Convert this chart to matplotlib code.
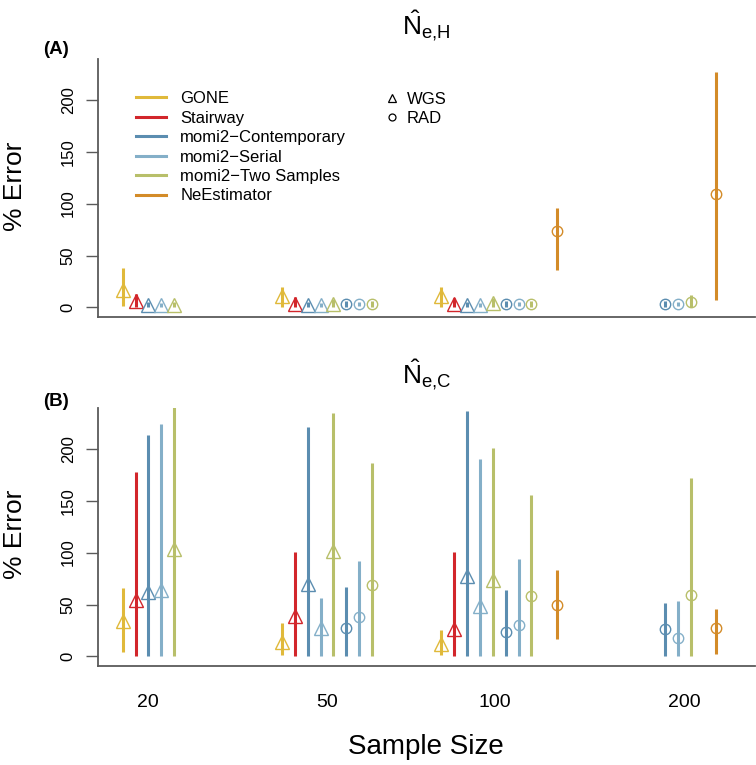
import matplotlib.pyplot as plt
import numpy as np
from matplotlib.lines import Line2D

plt.rcParams['font.family'] = ['Liberation Sans', 'DejaVu Sans']
plt.rcParams['mathtext.fontset'] = 'custom'
plt.rcParams['mathtext.rm'] = 'Liberation Sans'
plt.rcParams['mathtext.it'] = 'Liberation Sans:italic'
plt.rcParams['mathtext.bf'] = 'Liberation Sans:bold'

nan = np.nan
sample_sizes = ['20', '50', '100', '200']
methods = ['GONE', 'Stairway', 'momi2\u2212Contemporary', 'momi2\u2212Serial',
           'momi2\u2212Two Samples', 'NeEstimator']
colors = ['#E0B93A', '#D2262B', '#5B8DB0', '#84AFC8', '#B8BF6A', '#D38B28']

# one row per (method, data type), one column per sample size
series_method = [0, 1, 2, 3, 4, 2, 3, 4, 5]
series_type = ['WGS', 'WGS', 'WGS', 'WGS', 'WGS', 'RAD', 'RAD', 'RAD', 'RAD']

# panel A: N_e,H
nh_mean = [[17, 11, 11, nan], [6, 3, 3, nan], [2.5, 2.5, 2.5, nan],
           [2.5, 2.5, 2.5, nan], [2.5, 3, 4, nan], [nan, 3, 3, 3],
           [nan, 3, 3, 3], [nan, 3, 3, 5], [nan, nan, 74, 109]]
nh_lo = [[1, 0, 0, nan], [0, 0, 0, nan], [0.5, 0.5, 0.5, nan],
         [0.5, 0.5, 0.5, nan], [0.5, 0, 0, nan], [nan, 0.5, 0.5, 0.5],
         [nan, 1, 1, 1], [nan, 0, 0, 0], [nan, nan, 36, 7]]
nh_hi = [[38, 20, 20, nan], [13, 10, 9, nan], [5, 5, 5, nan],
         [4.5, 4.5, 4.5, nan], [5, 8, 9, nan], [nan, 6, 6, 6],
         [nan, 5, 5, 5], [nan, 6, 6, 12], [nan, nan, 96, 227]]

# panel B: N_e,C
nc_mean = [[34, 14, 12, nan], [54, 39, 26, nan], [62, 70, 77, nan],
           [64, 27, 49, nan], [103, 102, 74, nan], [nan, 27, 24, 26],
           [nan, 38, 30, 18], [nan, 69, 58, 59], [nan, nan, 50, 27]]
nc_lo = [[4, 1, 1, nan], [0, 0, 0, nan], [0, 0, 0, nan],
         [0, 0, 0, nan], [0, 0, 0, nan], [nan, 0, 0, 0],
         [nan, 0, 0, 0], [nan, 0, 0, 0], [nan, nan, 17, 2]]
nc_hi = [[66, 32, 25, nan], [178, 101, 101, nan], [213, 221, 236, nan],
         [224, 56, 190, nan], [240, 234, 201, nan], [nan, 67, 64, 51],
         [nan, 92, 94, 53], [nan, 186, 155, 172], [nan, nan, 83, 46]]

# layout
group_x = np.array([1, 13.4, 25.8, 38.2])
slot_x = [0, 1, 2, 3, 4, 5, 6, 7, 9]
xtick_x = [2.95, 16.88, 29.95, 44.68]
markers = {'WGS': '^', 'RAD': 'o'}
msizes = {'WGS': 9.5, 'RAD': 7.5}
W, H = 756, 765


def panel(ax, mean, lo, hi):
    for i in range(len(series_method)):
        m = np.array(mean[i], float)
        l = np.array(lo[i], float)
        h = np.array(hi[i], float)
        ok = ~np.isnan(m)
        x = group_x[ok] + slot_x[i]
        c = colors[series_method[i]]
        ax.errorbar(x, m[ok], yerr=[m[ok] - l[ok], h[ok] - m[ok]],
                    fmt=markers[series_type[i]], ms=msizes[series_type[i]],
                    mfc='none', mec=c, mew=1.0, ecolor=c, elinewidth=2.2,
                    capsize=0)
    ax.set_xlim(-0.92, 50.2)
    ax.set_ylim(-9.2, 239.2)
    ax.set_yticks([0, 50, 100, 150, 200])
    for s in ['top', 'right']:
        ax.spines[s].set_visible(False)
    for s in ['left', 'bottom']:
        ax.spines[s].set_color('#5a5a5a')
        ax.spines[s].set_linewidth(1.3)
    ax.tick_params(axis='y', labelrotation=90, length=9, width=1.0,
                   color='#5a5a5a', labelsize=12, pad=7)
    for t in ax.get_yticklabels():
        t.set_va('center')


fig = plt.figure(figsize=(W / 100, H / 100), dpi=100)
axA = fig.add_axes([98 / W, 1 - 317 / H, 657 / W, 258 / H])
axB = fig.add_axes([98 / W, 1 - 666 / H, 657 / W, 258 / H])

panel(axA, nh_mean, nh_lo, nh_hi)
panel(axB, nc_mean, nc_lo, nc_hi)

axA.set_xticks([])
axB.set_xticks(xtick_x, sample_sizes)
axB.tick_params(axis='x', length=0, labelsize=14, pad=20)

axA.set_title(r'$\hat{\mathrm{N}}_{\mathrm{e{,}H}}$', fontsize=19, pad=17)
axB.set_title(r'$\hat{\mathrm{N}}_{\mathrm{e{,}C}}$', fontsize=19, pad=17)

fig.text(43 / W, 1 - 49 / H, '(A)', fontsize=13.5, fontweight='bold', va='center')
fig.text(43 / W, 1 - 402 / H, '(B)', fontsize=13.5, fontweight='bold', va='center')
for yc in [186, 534]:
    fig.text(15 / W, 1 - yc / H, '% Error', fontsize=19, rotation=90,
             ha='center', va='center')
fig.text(426 / W, 1 - 747 / H, 'Sample Size', fontsize=20, ha='center',
         va='center')

h1 = [Line2D([0], [0], color=c, lw=2.2) for c in colors]
leg1 = axA.legend(h1, methods, loc='upper left',
                  bbox_to_anchor=(136 / W, 1 - 91 / H),
                  bbox_transform=fig.transFigure, frameon=False, fontsize=12,
                  handlelength=1.8, handletextpad=0.85, labelspacing=0.27,
                  borderpad=0, borderaxespad=0)
axA.add_artist(leg1)
h2 = [Line2D([], [], marker='^', ls='none', mfc='none', mec='black', ms=6, mew=0.9),
      Line2D([], [], marker='o', ls='none', mfc='none', mec='black', ms=5, mew=0.9)]
axA.legend(h2, ['WGS', 'RAD'], loc='upper left',
           bbox_to_anchor=(384 / W, 1 - 92 / H),
           bbox_transform=fig.transFigure, frameon=False, fontsize=12,
           handlelength=0.9, handletextpad=0.45, labelspacing=0.25,
           borderpad=0, borderaxespad=0)

fig.savefig('out.png', dpi=100)
